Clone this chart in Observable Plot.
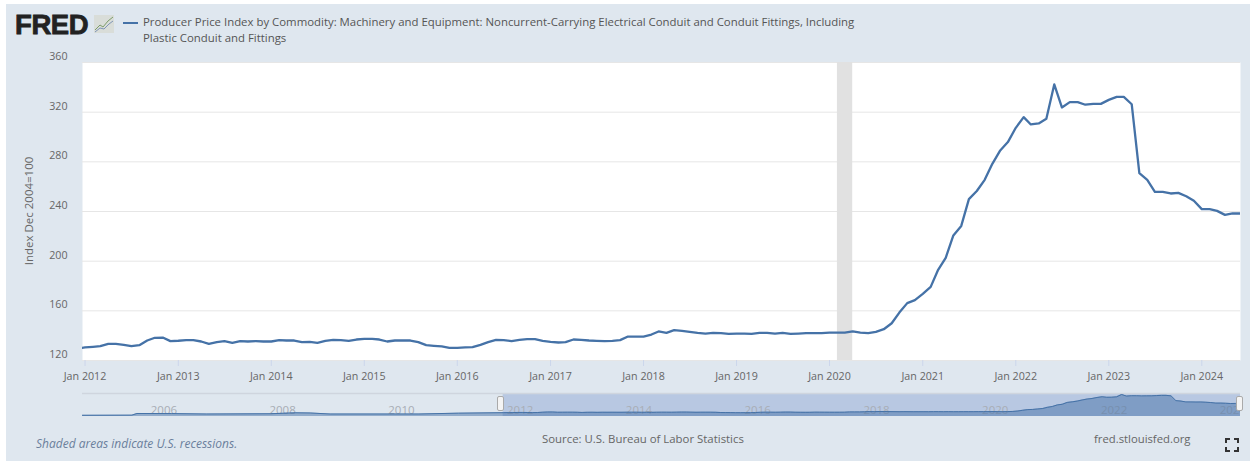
<!DOCTYPE html>
<html>
<head>
<meta charset="utf-8">
<script src="https://cdn.jsdelivr.net/npm/d3@7"></script>
<script src="https://cdn.jsdelivr.net/npm/@observablehq/plot@0.6"></script>
<style>
html,body{margin:0;padding:0;background:#fff;width:1250px;height:461px;overflow:hidden}
#panel{position:absolute;left:6px;top:4px;right:0;bottom:0;background:#dfe7ef}
.t{position:absolute;font-family:"Open Sans",sans-serif;white-space:nowrap;color:#666}
#stage svg{position:absolute;left:0;top:0;background:transparent}
.handle{position:absolute;width:7px;height:15px;top:396px;background:#f4f4f4;border:1px solid #aaa;border-radius:2px;box-sizing:border-box}
</style>
</head>
<body>
<div id="panel"></div>
<div id="stage"></div>
<div class="t" style="left:15px;top:9px;font:900 27.5px/32px 'Liberation Sans',sans-serif;color:#222;letter-spacing:-.4px;-webkit-text-stroke:.8px #222">FRED</div>
<svg style="position:absolute;left:94px;top:15px" width="20" height="18" viewBox="0 0 20 18">
<rect width="20" height="18" fill="#d9ddd9"/>
<path d="M1 15 L6 10 L9 12 L14 6 L19 2" fill="none" stroke="#7d9c6a" stroke-width="1"/>
<path d="M1 17 L6 13 L10 14 L15 9 L19 6" fill="none" stroke="#7f95b5" stroke-width="1"/>
</svg>
<div style="position:absolute;left:123px;top:21.5px;width:14.5px;height:2px;background:#4572a7"></div>
<div class="t" id="title1" style="left:143px;top:14px;font-size:11.4px;line-height:16px;color:#555">Producer Price Index by Commodity: Machinery and Equipment: Noncurrent-Carrying Electrical Conduit and Conduit Fittings, Including</div>
<div class="t" id="title2" style="left:143px;top:30px;font-size:11.4px;line-height:16px;color:#555">Plastic Conduit and Fittings</div>
<div class="t" style="left:28px;top:211px;font-size:11.5px;transform:translate(-50%,-50%) rotate(-90deg)">Index Dec 2004=100</div>
<div class="t" style="left:36px;top:435px;font-size:12px;font-style:italic;color:#6b7f9c">Shaded areas indicate U.S. recessions.</div>
<div class="t" style="left:542px;top:431px;font-size:11.4px">Source: U.S. Bureau of Labor Statistics</div>
<div class="t" style="left:1094px;top:431px;font-size:11.3px">fred.stlouisfed.org</div>
<div class="handle" style="left:497px"></div>
<div class="handle" style="left:1236px"></div>
<svg style="position:absolute;left:1225px;top:438px" width="14" height="14" viewBox="0 0 14 14">
<path d="M1 5V1H5M9 1H13V5M13 9V13H9M5 13H1V9" fill="none" stroke="#333" stroke-width="2"/>
</svg>
<script>
const priceStart = "2011-12-01";
const priceEnd = "2024-07-01";
const prices2011 = [129.7];
const prices2012 = [130.5,131,131.5,133.4,133.4,132.6,131.5,132.3,136.1,138.3,138.5,135.6];
const prices2013 = [135.9,136.4,136.4,135.3,133.4,134.8,135.6,134.2,135.6,135.3,135.6,135.3];
const prices2014 = [135.3,136.4,136.1,136.1,134.8,135,134.2,135.8,136.6,136.4,135.8,136.9];
const prices2015 = [137.4,137.4,136.9,135.3,136.1,136.1,136.1,134.8,132.4,131.8,131.3,130.2];
const prices2016 = [130.2,130.5,130.7,132.6,134.8,136.6,136.4,135.6,136.6,137.2,137.2,135.8];
const prices2017 = [135,134.5,134.8,136.9,136.6,136.1,135.8,135.6,135.8,136.4,139.3,139.3];
const prices2018 = [139.3,140.9,143.4,142.3,144.4,143.9,143.1,142.3,141.7,142.3,142,141.5];
const prices2019 = [141.7,141.7,141.5,142.3,142.3,141.7,142.3,141.5,141.7,142,142,142];
const prices2020 = [142.5,142.5,142.5,143.4,142.5,142,143,145.2,150,158.6,166.2,168.6];
const prices2021 = [173.7,179.3,192.5,202.7,220.7,228.4,250,256.5,265.5,278.4,289.2,295.9];
const prices2022 = [307.4,316,310.1,310.9,314.7,342.3,323.8,328.1,328.1,326,326.7,326.7];
const prices2023 = [329.9,332.3,332.3,326.4,270.9,265.5,255.8,255.8,254.5,255,252.3,248.6];
const prices2024 = [241.9,241.9,240.5,237.3,238.4,238.4];

const earlyDates = ["2004-12-01","2005-10-01","2005-11-01","2006-06-01","2007-01-01","2008-02-01","2008-07-01","2008-10-01","2009-02-01","2010-02-01","2010-08-01","2011-04-01"];
const earlyValues = [100,102,121,120,115,118,129,127,115,115,115,125];

const yTicks = [120,160,200,240,280,320,360];
const tickYears = ["2012","2013","2014","2015","2016","2017","2018","2019","2020","2021","2022","2023","2024"];
const navYears = ["2006","2008","2010","2012","2014","2016","2018","2020","2022","2024"];
const recession = {start:"2020-02-01", end:"2020-04-01"};

const prices = [].concat(prices2011,prices2012,prices2013,prices2014,prices2015,prices2016,prices2017,prices2018,prices2019,prices2020,prices2021,prices2022,prices2023,prices2024);
const months = d3.utcMonth.range(new Date(priceStart), new Date(priceEnd));
const series = months.map((date,i)=>({date,value:prices[i]}));
const navSeries = earlyDates.map((d,i)=>({date:new Date(d),value:earlyValues[i]})).concat(series.slice(1));

const font = {fontFamily:"'Open Sans',sans-serif",fontSize:"10.7px",color:"#666",background:"transparent"};
const lineColor = "#4572a7";

const main = Plot.plot({
  width:1250,height:392,marginLeft:82,marginRight:10,marginTop:62,marginBottom:32,
  style:font,
  x:{type:"utc",domain:[new Date("2011-12-22"),new Date("2024-06-01")]},
  y:{domain:[120,360]},
  marks:[
    Plot.frame({fill:"white",stroke:"none"}),
    Plot.gridY(yTicks,{stroke:"#e6e6e6",strokeOpacity:1,strokeWidth:1}),
    Plot.rectX([recession],{x1:d=>new Date(d.start),x2:d=>new Date(d.end),y1:120,y2:360,fill:"#e1e1e1"}),
    Plot.axisY(yTicks,{anchor:"left",tickSize:0,tickPadding:15,dy:-6,label:null}),
    Plot.axisX(tickYears.map(y=>new Date(y+"-01-01")),{anchor:"bottom",tickSize:6,tickPadding:6,stroke:"#ccd6eb",textStroke:"none",tickFormat:d3.utcFormat("Jan %Y"),label:null}),
    Plot.line(series,{x:"date",y:"value",stroke:lineColor,strokeWidth:2.3,clip:true})
  ]
});

const navLo = 86, navHi = 354;
const nav = Plot.plot({
  width:1250,height:425,marginLeft:82,marginRight:10,marginTop:393,marginBottom:9,
  style:{...font,fontSize:"11.5px"},
  x:{type:"utc",domain:[new Date("2004-12-01"),new Date("2024-06-01")],axis:null},
  y:{domain:[navLo,navHi],axis:null},
  marks:[
    Plot.rectX([recession],{x1:()=>new Date("2012-01-01"),x2:()=>new Date("2024-06-01"),y1:navLo,y2:navHi,fill:"#b8c8e2"}),
    Plot.ruleY([navHi],{stroke:"#cfd5de",strokeWidth:1.5}),
    Plot.text(navYears,{x:d=>new Date(d+"-01-01"),y:navLo,text:d=>d,dx:17,dy:-6,fill:"#a8adb5",clip:true}),
    Plot.areaY(navSeries,{x:"date",y1:navLo,y2:"value",fill:lineColor,fillOpacity:.5}),
    Plot.line(navSeries,{x:"date",y:"value",stroke:lineColor,strokeWidth:1})
  ]
});
const stage = document.getElementById("stage");
stage.append(nav, main);
</script>
</body>
</html>
